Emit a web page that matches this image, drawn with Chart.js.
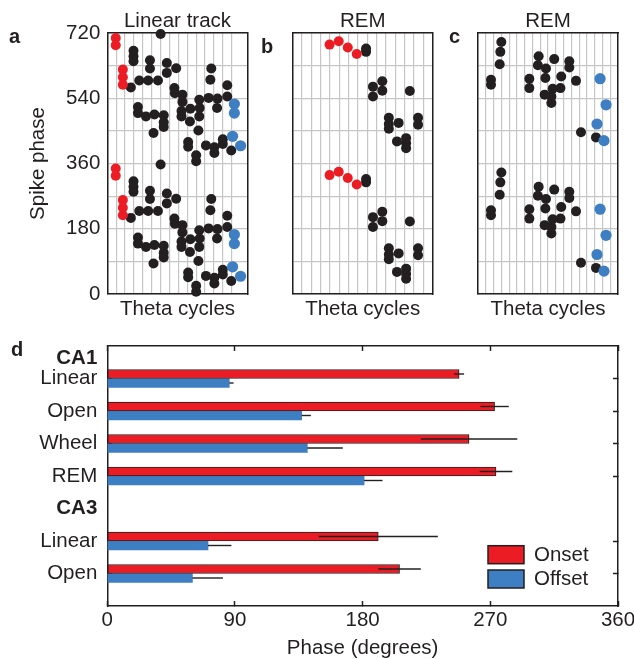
<!DOCTYPE html>
<html>
<head>
<meta charset="utf-8">
<script src="https://cdn.jsdelivr.net/npm/chart.js@4.4.1/dist/chart.umd.min.js"></script>
<style>
  body { margin: 0; width: 634px; height: 659px; position: relative; overflow: hidden; background: #fff;
         font-family: 'Liberation Sans', Arial, sans-serif; color: #231f20; }
  canvas { position: absolute; }
  .tag { position: absolute; font-weight: bold; font-size: 20px; line-height: 20px; }
</style>
</head>
<body>
<canvas id="panelA" width="260" height="330" style="left:0;top:0"></canvas>
<canvas id="panelB" width="180" height="330" style="left:260px;top:0"></canvas>
<canvas id="panelC" width="194" height="330" style="left:440px;top:0"></canvas>
<canvas id="phaseBars" width="634" height="329" style="left:0;top:330px"></canvas>
<div class="tag" style="left:9px;top:26px">a</div>
<div class="tag" style="left:261px;top:36px">b</div>
<div class="tag" style="left:449px;top:26px">c</div>
<div class="tag" style="left:11px;top:339px">d</div>
<script>
// Spikes as [theta cycle, phase in degrees]; each panel shows the phase twice (0-720)
const aOnset = [[0.95, 346], [0.95, 326], [1.75, 259], [1.75, 238], [1.75, 217]];
const aOffset = [[14.3, 164], [14.3, 139], [14.1, 75], [15.0, 49]];
const aSpikes = [
  [6.0, 357], [2.95, 311], [2.95, 296], [2.95, 282], [2.65, 210], [3.6, 229], [4.6, 229], [5.7, 229],
  [4.8, 285], [4.8, 262], [6.7, 277], [6.7, 250], [7.75, 263], [7.55, 208], [7.6, 194], [8.45, 190],
  [8.45, 170], [3.45, 156], [3.45, 139], [4.35, 130], [5.3, 135], [6.35, 133], [6.35, 114], [6.35, 101],
  [5.2, 84], [8.35, 145], [8.35, 130], [9.35, 151], [9.3, 116], [10.35, 176], [10.4, 153], [10.35, 130],
  [10.25, 91], [11.4, 181], [12.4, 179], [12.35, 153], [13.5, 185], [13.5, 216], [11.7, 262], [11.6, 231],
  [9.1, 59], [9.1, 46], [10.0, 23], [10.0, 6], [11.1, 50], [12.05, 45], [12.05, 29], [13.0, 67],
  [13.0, 54], [13.95, 36]
];

const bOnset = [[3.95, 328], [4.93, 337], [5.9, 320], [6.86, 302]];
const bOffset = [];
const bSpikes = [
  [7.86, 317], [7.86, 308], [8.6, 212], [8.6, 185], [9.6, 227], [9.6, 201], [12.55, 200], [10.3, 126],
  [10.3, 109], [10.3, 96], [11.35, 112], [13.43, 126], [13.43, 107], [11.17, 61], [12.15, 70], [12.15, 56],
  [12.15, 42]
];

const cOnset = [];
const cOffset = [[15.7, 234], [16.46, 162], [15.3, 109], [16.2, 63]];
const cSpikes = [
  [3.0, 335], [2.87, 308], [2.79, 274], [1.67, 231], [1.67, 217], [7.8, 296], [7.7, 271], [8.74, 262],
  [8.66, 236], [9.8, 288], [11.74, 282], [11.74, 265], [10.7, 240], [12.6, 228], [6.6, 234], [6.6, 208],
  [9.6, 206], [10.6, 208], [8.57, 190], [9.43, 185], [9.43, 167], [13.24, 86], [15.17, 72]
];

// panel d: mean phase (degrees) and error per row
const rowLabels = [['', 'CA1'], 'Linear', 'Open', 'Wheel', 'REM', 'CA3', 'Linear', 'Open', ''];
const headerRows = [0, 5];
const onsetMean = [null, 248, 273, 255, 274, null, 191, 206, null];
const onsetErr = [null, 3.5, 10, 34, 11.5, null, 42, 15, null];
const offsetMean = [null, 86, 137, 141, 181, null, 71, 60, null];
const offsetErr = [null, 3, 6.5, 25, 13, null, 16.5, 21.5, null];
const phaseTicks = [0, 90, 180, 270, 360];

const red = '#ec1c24', blue = '#3e7ec3', ink = '#231f20', gridGrey = '#c6c6c6';
const fontSize = 20.5;

Chart.defaults.font.family = "'Liberation Sans', Arial, sans-serif";
Chart.defaults.font.size = fontSize;
Chart.defaults.color = ink;

// fixe Achsengröße, damit die Plotflächen genau sitzen
const fixSize = size => scale => {
  if (scale.isHorizontal()) scale.height = size; else scale.width = size;
  scale.paddingLeft = scale.paddingRight = scale.paddingTop = scale.paddingBottom = 0;
};
const frame = { color: ink, width: 1.5 };
const twoCycles = pts => pts.flatMap(([c, p]) => [{ x: c, y: p }, { x: c, y: p + 360 }]);

function phasePanel(id, title, cycles, leftWidth, padRight, onset, offset, spikes, showY) {
  return new Chart(document.getElementById(id), {
    type: 'scatter',
    data: {
      datasets: [
        { label: 'Onset', data: twoCycles(onset), backgroundColor: red, pointRadius: 5, clip: false },
        { label: 'Offset', data: twoCycles(offset), backgroundColor: blue, pointRadius: 5.6, clip: false },
        { label: 'Spikes', data: twoCycles(spikes), backgroundColor: ink, pointRadius: 5, clip: false }
      ]
    },
    options: {
      responsive: false,
      animation: false,
      events: [],
      layout: { padding: { left: 0, right: padRight, top: 0, bottom: 0 } },
      elements: { point: { borderWidth: 0 } },
      plugins: { legend: { display: false }, tooltip: { enabled: false } },
      scales: {
        x: {
          type: 'linear', min: 0, max: cycles,
          ticks: { display: false, stepSize: 1 },
          grid: { color: gridGrey, lineWidth: 1.2, drawTicks: false },
          border: frame,
          title: { display: true, text: 'Theta cycles', padding: { top: 0, bottom: 8.5 } },
          afterFit: fixSize(36)
        },
        x2: {
          type: 'linear', position: 'top', min: 0, max: 1,
          ticks: { display: false }, grid: { display: false }, border: frame,
          title: { display: true, text: title, padding: { top: 9, bottom: 0 } },
          afterFit: fixSize(33)
        },
        y: {
          type: 'linear', min: 0, max: 720,
          ticks: { display: showY, stepSize: 90, padding: 7, autoSkip: false,
                   callback: v => (v % 180 === 0 ? v : '') },
          grid: { color: gridGrey, lineWidth: 1.2, drawTicks: false },
          border: frame,
          title: { display: showY, text: 'Spike phase', padding: { top: 26, bottom: 0 } },
          afterFit: fixSize(leftWidth)
        },
        y2: {
          type: 'linear', position: 'right', min: 0, max: 1,
          ticks: { display: false }, grid: { display: false }, border: frame,
          afterFit: fixSize(1)
        }
      }
    }
  });
}

phasePanel('panelA', 'Linear track', 15.8, 107.3, 11.3, aOnset, aOffset, aSpikes, true);
phasePanel('panelB', 'REM', 15, 32.7, 6.3, bOnset, bOffset, bSpikes, false);
phasePanel('panelC', 'REM', 18, 38, 15, cOnset, cOffset, cSpikes, false);

// Fehlerbalken: Onset ganz über dem Balken, Offset nur nach außen
const errorBars = {
  id: 'errorBars',
  afterDatasetsDraw(chart) {
    const { ctx } = chart;
    const xs = chart.scales.x;
    ctx.save();
    ctx.strokeStyle = ink;
    ctx.lineWidth = 1.4;
    chart.data.datasets.forEach((ds, i) => {
      chart.getDatasetMeta(i).data.forEach((bar, j) => {
        const v = ds.data[j], e = ds.errors[j];
        if (v == null || e == null) return;
        ctx.beginPath();
        ctx.moveTo(xs.getPixelForValue(ds.halfError ? v : v - e), bar.y);
        ctx.lineTo(xs.getPixelForValue(v + e), bar.y);
        ctx.stroke();
      });
    });
    ctx.restore();
  }
};

// Legende unten rechts in der Plotfläche
const boxLegend = {
  id: 'boxLegend',
  afterDraw(chart) {
    const { ctx, chartArea } = chart;
    ctx.save();
    chart.data.datasets.forEach((ds, i) => {
      const x = chartArea.right - 130, y = chartArea.bottom - 60.3 + i * 24.3;
      ctx.fillStyle = ds.backgroundColor;
      ctx.fillRect(x, y, 36, 18);
      ctx.strokeStyle = ink;
      ctx.lineWidth = 1.5;
      ctx.strokeRect(x, y, 36, 18);
      ctx.fillStyle = ink;
      ctx.font = fontSize + "px 'Liberation Sans', Arial, sans-serif";
      ctx.textBaseline = 'middle';
      ctx.fillText(ds.label, x + 46, y + 9.5);
    });
    ctx.restore();
  }
};

const rowTick = c => (onsetMean[c.index] != null ? ink : 'rgba(0,0,0,0)');

new Chart(document.getElementById('phaseBars'), {
  type: 'bar',
  data: {
    labels: rowLabels,
    datasets: [
      { label: 'Onset', data: onsetMean, errors: onsetErr, backgroundColor: red,
        borderColor: ink, borderWidth: 1, borderSkipped: false },
      { label: 'Offset', data: offsetMean, errors: offsetErr, halfError: true, backgroundColor: blue,
        borderWidth: 0 }
    ]
  },
  options: {
    indexAxis: 'y',
    responsive: false,
    animation: false,
    events: [],
    layout: { padding: { left: 0, right: 15, top: 0, bottom: 0 } },
    datasets: { bar: { barThickness: 9 } },
    plugins: { legend: { display: false }, tooltip: { enabled: false } },
    scales: {
      x: {
        type: 'linear', min: 0, max: 360,
        afterBuildTicks: s => { s.ticks = phaseTicks.map(v => ({ value: v })); },
        ticks: { padding: 6.7 },
        grid: { drawOnChartArea: false, tickLength: -5, tickColor: ink, tickWidth: 1.5 },
        border: frame,
        title: { display: true, text: 'Phase (degrees)', padding: { top: 0, bottom: -1.3 } },
        afterFit: fixSize(53)
      },
      x2: {
        type: 'linear', position: 'top', min: 0, max: 360,
        afterBuildTicks: s => { s.ticks = phaseTicks.map(v => ({ value: v })); },
        ticks: { display: false },
        grid: { drawOnChartArea: false, tickLength: -5, tickColor: ink, tickWidth: 1.5 },
        border: frame,
        afterFit: fixSize(16)
      },
      y: {
        type: 'category', offset: false,
        ticks: { padding: 15, autoSkip: false,
                 font: c => ({ size: fontSize, weight: headerRows.includes(c.index) ? 'bold' : 'normal' }) },
        grid: { offset: false, drawOnChartArea: false, tickLength: -5, tickWidth: 1.5, tickColor: rowTick },
        border: frame,
        afterFit: fixSize(107.3)
      },
      y2: {
        type: 'category', position: 'right', offset: false,
        ticks: { display: false },
        grid: { offset: false, drawOnChartArea: false, tickLength: -5, tickWidth: 1.5, tickColor: rowTick },
        border: frame,
        afterFit: fixSize(1)
      }
    }
  },
  plugins: [errorBars, boxLegend]
});
</script>
</body>
</html>
